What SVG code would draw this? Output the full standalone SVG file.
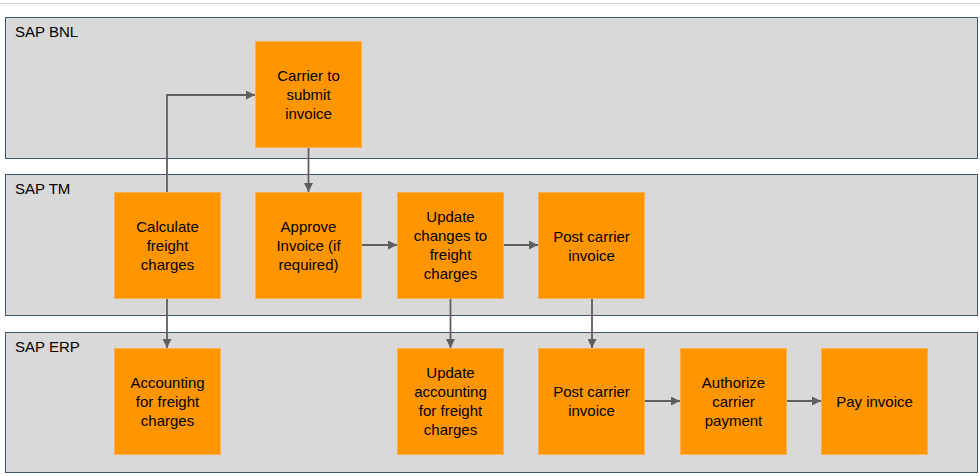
<svg xmlns="http://www.w3.org/2000/svg" width="980" height="476" viewBox="0 0 980 476">
<style>
.lane{fill:#d9d9d9;stroke:#44546a;stroke-width:1}
.lbl{font-family:"Liberation Sans",Arial,sans-serif;font-size:15px;fill:#000}
.node rect{fill:#ff9600;stroke:#ffb04d;stroke-width:1}
.node text{font-family:"Liberation Sans",Arial,sans-serif;font-size:15px;fill:#000;text-anchor:middle}
.conn path{fill:none;stroke:#5f5f5f;stroke-width:1.8;marker-end:url(#ah)}
</style>
<defs>
<marker id="ah" viewBox="0 0 10 10" refX="10" refY="5" markerWidth="5" markerHeight="5" orient="auto" markerUnits="strokeWidth">
<path d="M0,0 L10,5 L0,10 z" fill="#5f5f5f"/>
</marker>
</defs>
<rect width="980" height="476" fill="#fff"/>
<line x1="0" y1="3.5" x2="980" y2="3.5" stroke="#d0d0d0" stroke-width="1"/>
<g id="lane-bnl"><rect class="lane" x="5.5" y="17.5" width="972" height="141"/><text class="lbl" x="15" y="37">SAP BNL</text></g>
<g id="lane-tm"><rect class="lane" x="5.5" y="174.5" width="972" height="141"/><text class="lbl" x="15" y="194">SAP TM</text></g>
<g id="lane-erp"><rect class="lane" x="5.5" y="332.5" width="972" height="140"/><text class="lbl" x="15" y="352">SAP ERP</text></g>

<g id="carrier" class="node"><rect x="255.5" y="41.5" width="106" height="106"/><text x="308.5" y="81">Carrier to</text><text x="308.5" y="100">submit</text><text x="308.5" y="119">invoice</text></g>
<g id="calc" class="node"><rect x="114.5" y="192.5" width="106" height="106"/><text x="167.5" y="232">Calculate</text><text x="167.5" y="251">freight</text><text x="167.5" y="270">charges</text></g>
<g id="approve" class="node"><rect x="255.5" y="192.5" width="106" height="106"/><text x="308.5" y="232">Approve</text><text x="308.5" y="251">Invoice (if</text><text x="308.5" y="270">required)</text></g>
<g id="update-changes" class="node"><rect x="397.5" y="192.5" width="106" height="106"/><text x="450.5" y="222">Update</text><text x="450.5" y="241">changes to</text><text x="450.5" y="260">freight</text><text x="450.5" y="279">charges</text></g>
<g id="post-tm" class="node"><rect x="538.5" y="192.5" width="106" height="106"/><text x="591.5" y="242">Post carrier</text><text x="591.5" y="261">invoice</text></g>
<g id="accounting" class="node"><rect x="114.5" y="348.5" width="106" height="106"/><text x="167.5" y="388">Accounting</text><text x="167.5" y="407">for freight</text><text x="167.5" y="426">charges</text></g>
<g id="update-accounting" class="node"><rect x="397.5" y="348.5" width="106" height="106"/><text x="450.5" y="378">Update</text><text x="450.5" y="397">accounting</text><text x="450.5" y="416">for freight</text><text x="450.5" y="435">charges</text></g>
<g id="post-erp" class="node"><rect x="538.5" y="348.5" width="106" height="106"/><text x="591.5" y="397">Post carrier</text><text x="591.5" y="416">invoice</text></g>
<g id="authorize" class="node"><rect x="680.5" y="348.5" width="106" height="106"/><text x="733.5" y="388">Authorize</text><text x="733.5" y="407">carrier</text><text x="733.5" y="426">payment</text></g>
<g id="pay" class="node"><rect x="821.5" y="348.5" width="106" height="106"/><text x="874.5" y="407">Pay invoice</text></g>

<g id="connectors" class="conn">
<path d="M167,192 V95 H255"/>
<path d="M308.5,148 V192"/>
<path d="M362,245 H397"/>
<path d="M504,245 H538"/>
<path d="M167,299 V348"/>
<path d="M450.5,299 V348"/>
<path d="M592,299 V348"/>
<path d="M645,401 H680"/>
<path d="M787,401 H821"/>
</g>
</svg>
